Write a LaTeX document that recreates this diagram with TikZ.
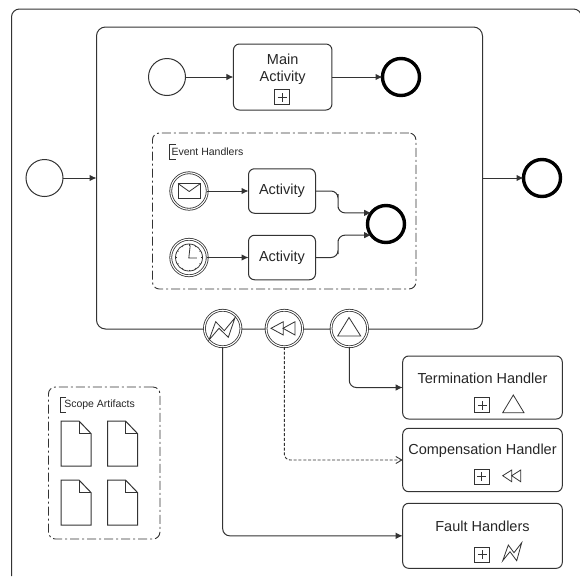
\documentclass[tikz,border=0pt]{standalone}
\usepackage{fontspec}
\setmainfont{Liberation Sans}
\usetikzlibrary{arrows.meta,shapes.geometric}
\definecolor{ink}{gray}{0.2}
\definecolor{txt}{gray}{0.15}
\tikzset{
  every node/.style={inner sep=0pt,outer sep=0pt,font=\fontsize{14.5}{17.5}\selectfont,text=txt},
  ln/.style={draw=ink,line width=1pt},
  startev/.style={ln,circle,minimum size=37pt},
  endev/.style={circle,draw=black,line width=3.4pt,minimum size=37pt},
  dblev/.style={circle,draw=ink,line width=.8pt,double=white,double distance=1.1pt,minimum size=36.5pt},
  task/.style={ln,rounded corners=6pt,align=center},
  group/.style={draw=ink,line width=.9pt,rounded corners=7pt,dash pattern=on 9pt off 3pt on 2pt off 3pt},
  plusbox/.style={draw=ink,line width=.8pt,minimum size=15pt,path picture={
     \draw[ink,line width=.8pt] ([xshift=-4.5pt]path picture bounding box.center)--([xshift=4.5pt]path picture bounding box.center);
     \draw[ink,line width=.8pt] ([yshift=-4.5pt]path picture bounding box.center)--([yshift=4.5pt]path picture bounding box.center);}},
  flow/.style={draw=ink,line width=1pt,rounded corners=7pt,-{Latex[length=7pt,width=6.5pt]}},
  msgflow/.style={draw=ink,line width=.9pt,rounded corners=6pt,dash pattern=on 3pt off 1.8pt,-{Straight Barb[length=6pt,width=7pt]}},
  smalltext/.style={font=\fontsize{10.5}{12}\selectfont,anchor=west},
  icon/.style={draw=ink,line width=.8pt,line join=miter},
  bracket/.style={draw=ink,line width=.9pt},
  doc/.style={draw=ink,line width=1pt,line join=miter},
}
\newcommand{\docicon}[2]{%
  \draw[doc] (#1,#2)--++(18,0)--++(12,12.5)--++(0,32.5)--++(-30,0)--cycle;
  \draw[doc] (#1+18,#2)--++(0,12.5)--++(12,0);}
\begin{document}
\begin{tikzpicture}[x=1pt,y=-1pt]
\useasboundingbox (0,0) rectangle (580,576);
% outer frame
\draw[ink,line width=1pt,rounded corners=8pt] (11.5,576)--(11.5,9)--(581.5,9)--(581.5,40);

% main scope
\node[task,rounded corners=9pt,minimum width=386pt,minimum height=302pt] (scope) at (289.5,178) {};
% inner flow
\node[startev] (s1) at (167,77) {};
\node[task,minimum width=98.5pt,minimum height=66pt] (main) at (282.7,77) {};
\node (maintxt) at (282.7,68.8) [align=center] {Main\\[-0.6pt]Activity};
\node[plusbox] (mainplus) at (282,97) {};
\node[endev] (e1) at (401,77) {};
\draw[flow] (s1) -- (main);
\draw[flow] (main) -- (e1);

% event handlers
\node[group,minimum width=263.5pt,minimum height=156pt] (eh) at (284.2,211) {};
\node[smalltext] (ehl) at (171.5,152) {Event Handlers};
\draw[bracket] (176,144.3)--(169,144.3)--(169,159.5)--(176,159.5);
\node[dblev] (msg) at (189,191) {};
\node[dblev] (tim) at (189,257.5) {};
\draw[icon,fill=white] (178,183.5) rectangle (200.5,198.7);
\draw[icon] (178,183.5)--(189.2,191.5)--(200.5,183.5);
\draw[icon] (189,257.5) circle (13.5pt);
\draw[icon] (190.2,245.5)--(188.8,258)--(196.8,258);
\foreach \a in {0,30,...,330}{\draw[ink,line width=.5pt] (189,257.5)++(\a:12pt)--++(\a:1.5pt);}
\node[task,minimum width=67pt,minimum height=44.5pt] (a1) at (282,191) {};
\node (a1txt) at (282,191) {Activity};
\node[task,minimum width=67pt,minimum height=44.5pt] (a2) at (282,257.5) {};
\node (a2txt) at (282,257.5) {Activity};
\node[endev] (e2) at (386,224) {};
\draw[flow] (msg) -- (a1);
\draw[flow] (tim) -- (a2);
\coordinate (m1) at (338,201);
\coordinate (m2) at (338,247);
\draw[flow] (a1.east) -| (m1) |- (e2.143);
\draw[flow] (a2.east) -| (m2) |- (e2.217);

% outer flows
\node[startev] (s0) at (44.5,178) {};
\node[endev] (e0) at (542,178) {};
\draw[flow] (s0) -- (scope);
\draw[flow] (scope) -- (e0);

% boundary events
\node[dblev,fill=white] (bf) at (222.7,328.5) {};
\node[dblev,fill=white] (bc) at (284.3,328.5) {};
\node[dblev,fill=white] (bt) at (349.3,328.5) {};
\draw[icon] (209,340)--(215.7,321.7)--(224.3,330.7)--(235,317.7)--(228.3,337.3)--(219,328.3)--cycle;
\draw[icon] (283.3,321.7)--(271,328.3)--(283.3,335)--cycle;
\draw[icon] (295,321.7)--(283,328.3)--(295,335)--cycle;
\draw[icon] (349,317.5)--(360.7,336)--(337.7,336)--cycle;

% handlers
\node[task,minimum width=159.6pt,minimum height=63pt] (ht) at (482.5,387.5) {};
\node (httxt) at (482.5,378) {Termination Handler};
\node[plusbox] (htp) at (482.3,405) {};
\draw[icon] (513.3,395)--(524,412.7)--(502.7,412.7)--cycle;

\node[task,minimum width=159.6pt,minimum height=63.4pt] (hc) at (482.5,460) {};
\node (hctxt) at (482.5,450.5) {Compensation Handler};
\node[plusbox] (hcp) at (481.7,476.5) {};
\draw[icon] (511.7,470)--(502.7,475.7)--(511.7,481.7)--cycle;
\draw[icon] (520.7,470)--(511.7,475.7)--(520.7,481.7)--cycle;

\node[task,minimum width=159.6pt,minimum height=65pt] (hf) at (482.5,535.8) {};
\node (hftxt) at (482.5,526.5) {Fault Handlers};
\node[plusbox] (hfp) at (482.3,554.5) {};
\draw[icon] (502.7,560.7)--(508.3,545)--(514,552.7)--(521.7,542.7)--(516.7,560.7)--(510,551.7)--cycle;

\draw[flow] (bt) |- (ht);
\draw[msgflow] (bc) |- (hc);
\draw[flow] (bf) |- (hf);

% scope artifacts
\node[group,minimum width=111.5pt,minimum height=152pt] (sa) at (104.2,463) {};
\node[smalltext] (sal) at (64.3,404.5) {Scope Artifacts};
\draw[bracket] (66,397)--(60.5,397)--(60.5,412.3)--(66,412.3);
\docicon{61}{421}
\docicon{107.5}{421}
\docicon{61}{480}
\docicon{107.5}{480}
\end{tikzpicture}
\end{document}
